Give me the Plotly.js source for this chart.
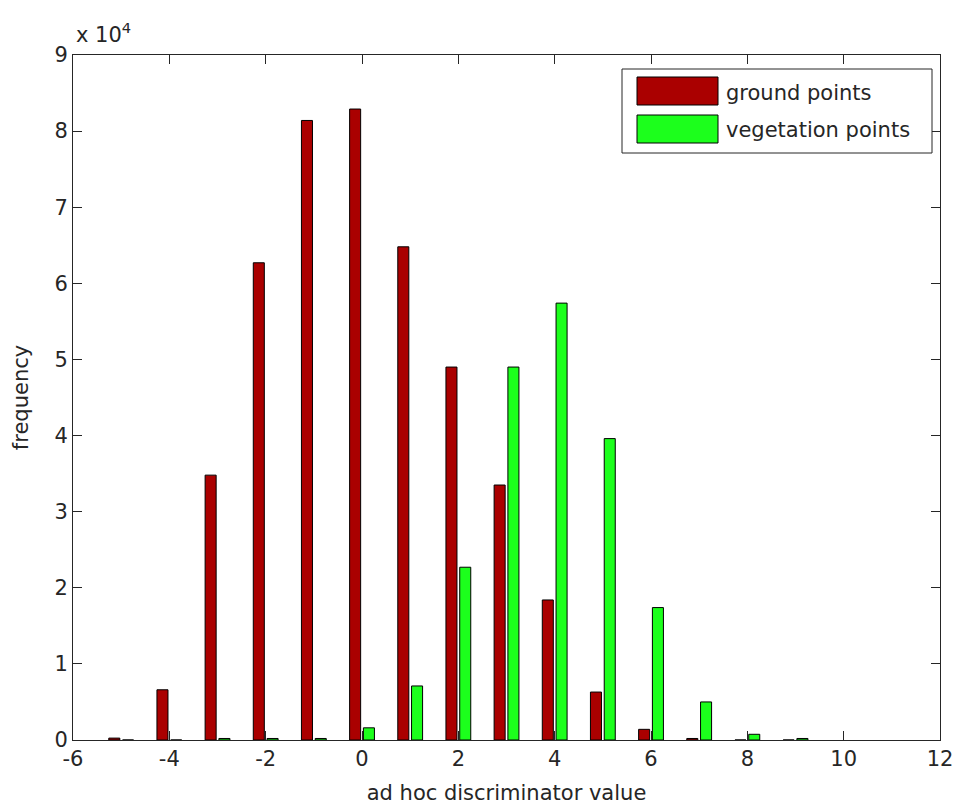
<!DOCTYPE html>
<html>
<head>
<meta charset="utf-8">
<script src="https://cdn.plot.ly/plotly-3.0.1.min.js"></script>
<style>html,body{margin:0;padding:0;background:#fff;}#chart{width:960px;height:812px;}</style>
</head>
<body>
<div id="chart"></div>
<script>
const binCenters = [-5, -4, -3, -2, -1, 0, 1, 2, 3, 4, 5, 6, 7, 8, 9];
const groundPoints = [250, 6600, 34800, 62700, 81400, 82900, 64800, 49000, 33500, 18400, 6300, 1400, 200, 0, 0];
const vegetationPoints = [0, 0, 200, 200, 200, 1600, 7100, 22700, 49000, 57400, 39600, 17400, 5000, 750, 200];
const seriesNames = ["ground points", "vegetation points"];
const xTickVals = [-6, -4, -2, 0, 2, 4, 6, 8, 10, 12];
const yTickVals = [0, 10000, 20000, 30000, 40000, 50000, 60000, 70000, 80000, 90000];
const yTickText = ["0", "1", "2", "3", "4", "5", "6", "7", "8", "9"];

const colors = ["#aa0000", "#1cff1c"];
const FONT = "DejaVu Sans, Arial, sans-serif";
const TXT = "#262626";

// plot area in pixels
const L = 73, R = 940, T = 55, B = 740, W = 960, H = 812;
const px = v => (v - L) / (R - L);
const py = v => (B - v) / (B - T);

const traces = [
  {type: "bar", x: binCenters, y: groundPoints, name: seriesNames[0],
   width: 0.229, offset: -0.257,
   marker: {color: colors[0], line: {color: "#000", width: 1}}, showlegend: false},
  {type: "bar", x: binCenters, y: vegetationPoints, name: seriesNames[1],
   width: 0.229, offset: 0.029,
   marker: {color: colors[1], line: {color: "#000", width: 1}}, showlegend: false}
];

// legend drawn as shapes + annotations (MATLAB style)
const shapes = [
  {type: "rect", xref: "paper", yref: "paper", x0: px(622), x1: px(932), y0: py(153), y1: py(69),
   line: {color: TXT, width: 1}, fillcolor: "#fff", layer: "above"},
  {type: "rect", xref: "paper", yref: "paper", x0: px(637), x1: px(718), y0: py(105), y1: py(77),
   line: {color: "#000", width: 1}, fillcolor: colors[0], layer: "above"},
  {type: "rect", xref: "paper", yref: "paper", x0: px(637), x1: px(718), y0: py(143), y1: py(115),
   line: {color: "#000", width: 1}, fillcolor: colors[1], layer: "above"}
];
const annotations = [
  {xref: "paper", yref: "paper", x: px(724), y: py(93), xanchor: "left", yanchor: "middle",
   text: seriesNames[0], showarrow: false, font: {family: FONT, size: 21, color: TXT}},
  {xref: "paper", yref: "paper", x: px(724), y: py(130), xanchor: "left", yanchor: "middle",
   text: seriesNames[1], showarrow: false, font: {family: FONT, size: 21, color: TXT}},
  {xref: "paper", yref: "paper", x: px(74), y: py(33), xanchor: "left", yanchor: "middle",
   text: "x 10<sup>4</sup>", showarrow: false, font: {family: FONT, size: 21, color: TXT}}
];

const layout = {
  width: W, height: H,
  margin: {l: L, r: W - R, t: T, b: H - B, pad: 0},
  paper_bgcolor: "#fff", plot_bgcolor: "#fff",
  barmode: "overlay",
  font: {family: FONT, size: 21, color: TXT},
  xaxis: {
    range: [-6, 12], tickvals: xTickVals, ticktext: xTickVals.map(String),
    ticks: "inside", ticklen: 9, tickcolor: TXT, tickwidth: 1,
    showline: true, linecolor: TXT, linewidth: 1, mirror: "allticks",
    showgrid: false, zeroline: false, automargin: "bottom",
    tickfont: {family: FONT, size: 21, color: TXT},
    title: {text: "ad hoc discriminator value", font: {family: FONT, size: 21, color: TXT}, standoff: 15}
  },
  yaxis: {
    range: [0, 90000], tickvals: yTickVals, ticktext: yTickText,
    ticks: "inside", ticklen: 9, tickcolor: TXT, tickwidth: 1,
    showline: true, linecolor: TXT, linewidth: 1, mirror: "allticks",
    showgrid: false, zeroline: false, automargin: "left",
    tickfont: {family: FONT, size: 21, color: TXT},
    title: {text: "frequency", font: {family: FONT, size: 21, color: TXT}, standoff: 20}
  },
  shapes: shapes,
  annotations: annotations,
  showlegend: false
};

Plotly.newPlot("chart", traces, layout, {displayModeBar: false, staticPlot: true});
</script>
</body>
</html>
